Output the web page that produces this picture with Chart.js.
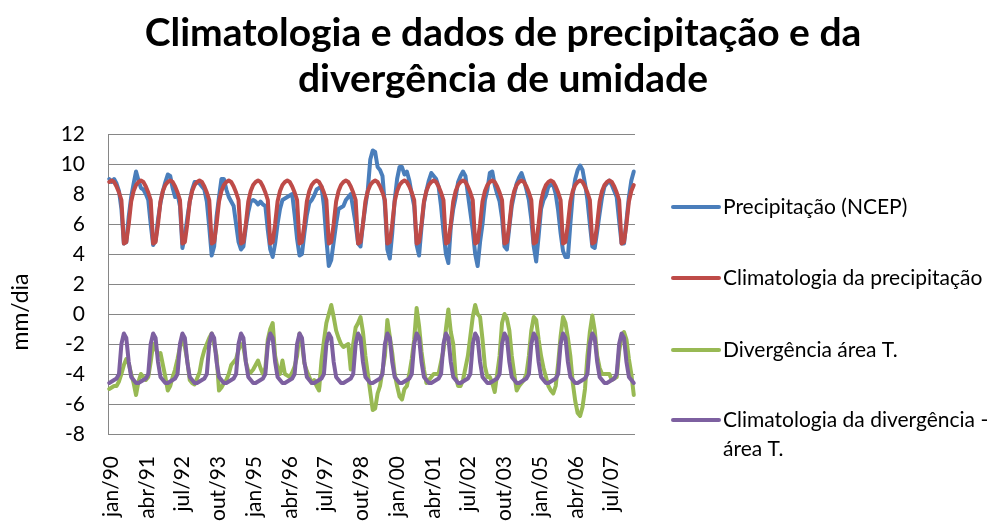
<!DOCTYPE html>
<html>
<head>
<meta charset="utf-8">
<script src="https://cdn.jsdelivr.net/npm/chart.js@4.4.1/dist/chart.umd.min.js"></script>
<style>
  html, body { margin: 0; padding: 0; background: #ffffff; }
  canvas { display: block; }
</style>
</head>
<body>
<canvas id="chart" width="999" height="522"></canvas>
<script>
// categories: monthly, jan/90 .. dez/07
const monthNames = ['jan', 'fev', 'mar', 'abr', 'mai', 'jun', 'jul', 'ago', 'set', 'out', 'nov', 'dez'];
const years = ['90', '91', '92', '93', '94', '95', '96', '97', '98', '99', '00', '01', '02', '03', '04', '05', '06', '07'];
const tickLabels = ['jan/90', 'abr/91', 'jul/92', 'out/93', 'jan/95', 'abr/96', 'jul/97', 'out/98',
                    'jan/00', 'abr/01', 'jul/02', 'out/03', 'jan/05', 'abr/06', 'jul/07'];

// monthly climatologies (jan..dez)
const precipClim = [8.8, 8.9, 8.8, 8.5, 8.1, 7.6, 4.7, 4.8, 6.0, 7.5, 8.2, 8.6];
const divClim = [-4.6, -4.5, -4.4, -4.3, -4.0, -2.0, -1.3, -1.6, -3.2, -4.2, -4.4, -4.6];

// precipitação (NCEP), one row per year
const precipNCEP = [
  [9.0, 8.8, 9.0, 8.7, 8.2, 7.0, 4.7, 4.8, 6.5, 7.8, 8.7, 9.5],
  [8.9, 8.4, 8.3, 8.0, 7.6, 6.0, 4.6, 4.9, 6.3, 7.4, 8.2, 8.8],
  [9.3, 9.2, 8.4, 7.8, 8.0, 7.2, 4.4, 5.2, 6.4, 7.5, 8.3, 8.8],
  [8.8, 8.7, 8.5, 8.3, 7.5, 5.8, 3.9, 4.5, 6.5, 7.8, 9.0, 9.0],
  [8.3, 7.8, 7.5, 7.2, 6.0, 4.8, 4.3, 4.5, 5.8, 6.8, 7.5, 7.6],
  [7.5, 7.3, 7.5, 7.3, 7.2, 5.6, 4.3, 3.8, 4.7, 6.0, 7.0, 7.6],
  [7.7, 7.8, 7.9, 8.0, 6.6, 5.0, 3.9, 4.0, 5.4, 6.6, 7.4, 7.6],
  [7.9, 8.3, 8.4, 8.5, 7.2, 5.0, 3.2, 3.6, 4.8, 6.0, 7.0, 7.1],
  [7.2, 7.6, 7.8, 8.0, 7.0, 6.0, 4.7, 4.5, 6.0, 7.2, 8.3, 10.3],
  [10.9, 10.8, 9.8, 9.6, 9.2, 7.2, 4.3, 3.7, 5.4, 7.6, 9.0, 9.8],
  [9.8, 9.3, 9.5, 8.9, 8.0, 7.2, 4.6, 3.9, 5.8, 7.4, 8.2, 8.9],
  [9.4, 9.2, 9.0, 8.5, 7.2, 5.5, 4.0, 3.4, 5.8, 7.0, 7.8, 8.8],
  [9.2, 9.5, 9.2, 8.0, 6.8, 5.6, 4.0, 3.2, 4.8, 6.0, 7.6, 8.3],
  [9.4, 9.5, 8.6, 8.0, 7.5, 6.4, 4.5, 4.3, 5.8, 7.2, 8.0, 8.7],
  [9.1, 9.4, 8.9, 8.3, 7.6, 6.3, 4.5, 3.5, 5.2, 7.0, 7.6, 7.9],
  [8.5, 8.6, 8.6, 8.0, 6.9, 5.4, 4.2, 3.8, 3.8, 6.0, 8.0, 9.0],
  [9.6, 9.9, 9.6, 8.7, 7.6, 6.0, 4.5, 4.4, 5.5, 6.7, 7.8, 8.5],
  [8.7, 8.9, 8.6, 8.2, 7.8, 6.2, 4.7, 4.7, 6.2, 7.8, 8.9, 9.5]
];

// divergência área T., one row per year
const divAreaT = [
  [-5.0, -4.9, -4.8, -4.8, -4.5, -4.0, -3.4, -3.0, -3.3, -4.0, -4.6, -5.4],
  [-4.5, -4.0, -4.2, -4.4, -4.2, -3.2, -2.0, -2.3, -2.7, -2.6, -3.4, -4.2],
  [-5.1, -4.8, -4.2, -3.7, -3.0, -2.2, -1.6, -2.2, -3.1, -4.4, -4.6, -4.7],
  [-4.3, -3.9, -3.0, -2.4, -2.0, -1.6, -1.3, -2.0, -2.8, -5.1, -4.9, -4.6],
  [-4.4, -4.0, -3.4, -3.2, -3.0, -2.4, -2.0, -2.2, -3.2, -3.8, -3.9, -3.7],
  [-3.4, -3.1, -3.6, -4.0, -3.6, -1.7, -1.0, -0.6, -2.8, -3.6, -4.0, -3.1],
  [-4.0, -4.1, -4.2, -3.9, -3.5, -2.8, -1.3, -2.0, -3.3, -3.8, -4.2, -4.6],
  [-4.4, -4.8, -5.1, -3.1, -1.8, -0.6, 0.0, 0.6, -0.2, -1.1, -1.6, -2.0],
  [-2.2, -2.1, -2.0, -3.7, -2.0, -0.9, -0.6, -0.2, -1.2, -2.8, -4.0, -5.2],
  [-6.4, -6.3, -5.3, -4.8, -3.8, -2.8, -0.4, -1.5, -2.6, -4.0, -4.8, -5.5],
  [-5.7, -5.0, -4.8, -4.0, -3.0, -1.7, 0.4, -0.8, -2.5, -3.7, -4.6, -4.4],
  [-4.2, -4.0, -4.0, -4.0, -3.2, -2.4, -1.0, 0.3, -1.2, -2.0, -4.2, -4.8],
  [-4.8, -4.4, -3.6, -2.8, -1.5, -0.2, 0.6, 0.0, -0.2, -1.7, -3.5, -4.2],
  [-4.2, -4.6, -5.2, -4.0, -2.8, -0.6, 0.0, -0.3, -1.1, -2.8, -4.0, -5.1],
  [-4.8, -4.6, -4.4, -4.0, -2.8, -1.1, -0.2, -0.4, -1.7, -2.8, -3.6, -4.2],
  [-4.8, -5.1, -5.3, -4.8, -3.3, -1.5, -0.2, -0.6, -1.6, -2.8, -4.6, -5.8],
  [-6.6, -6.8, -6.2, -5.0, -2.8, -1.2, -0.1, -1.1, -2.8, -3.6, -4.0, -4.0],
  [-4.0, -4.0, -4.4, -4.3, -4.2, -2.5, -1.5, -1.2, -1.7, -3.0, -4.0, -5.4]
];

const seriesNames = ['Precipitação (NCEP)', 'Climatologia da precipitação',
                     'Divergência área T.', 'Climatologia da divergência - área T.'];
const legendRows = [['Precipitação (NCEP)'], ['Climatologia da precipitação'],
                    ['Divergência área T.'], ['Climatologia da divergência -', 'área T.']];
const seriesColors = ['#4a7ebb', '#be4b48', '#98b954', '#7d60a0'];
const titleLines = ['Climatologia e dados de precipitação e da', 'divergência de umidade'];
const yTitle = 'mm/dia';

const labels = [];
years.forEach(y => monthNames.forEach(m => labels.push(m + '/' + y)));
const precipClimSeries = years.flatMap(() => precipClim);
const divClimSeries = years.flatMap(() => divClim);

Chart.defaults.font.family = 'Lato, "Open Sans", sans-serif';
Chart.defaults.color = '#000';

// title, y-axis caption and the side legend
const decorations = {
  id: 'decorations',
  afterDraw(chart) {
    const ctx = chart.ctx;
    ctx.save();
    ctx.fillStyle = '#000';
    ctx.textAlign = 'center';
    ctx.textBaseline = 'alphabetic';
    ctx.font = 'bold 39px Lato, sans-serif';
    ctx.fillText(titleLines[0], 503, 46);
    ctx.fillText(titleLines[1], 503, 92);

    ctx.save();
    ctx.translate(28, 312);
    ctx.rotate(-Math.PI / 2);
    ctx.font = '23px Lato, sans-serif';
    ctx.fillText(yTitle, 0, 0);
    ctx.restore();

    const rowY = [207, 278, 350, 420];
    ctx.textAlign = 'left';
    ctx.textBaseline = 'middle';
    ctx.font = '21px Lato, sans-serif';
    legendRows.forEach((rows, k) => {
      const y = rowY[k];
      ctx.strokeStyle = seriesColors[k];
      ctx.lineWidth = 4;
      ctx.lineCap = 'round';
      ctx.beginPath();
      ctx.moveTo(673, y);
      ctx.lineTo(719, y);
      ctx.stroke();
      rows.forEach((t, r) => ctx.fillText(t, 723, y + r * 29));
    });
    ctx.restore();
  }
};

const drawOrder = [3, 2, 1, 0];
const datasets = [precipNCEP.flat(), precipClimSeries, divAreaT.flat(), divClimSeries].map((d, k) => ({
  label: seriesNames[k],
  data: d,
  borderColor: seriesColors[k],
  backgroundColor: seriesColors[k],
  borderWidth: 4,
  borderJoinStyle: 'round',
  borderCapStyle: 'round',
  pointRadius: 0,
  tension: 0,
  order: drawOrder[k]
}));

new Chart(document.getElementById('chart'), {
  type: 'line',
  data: { labels: labels, datasets: datasets },
  options: {
    responsive: false,
    animation: false,
    layout: { padding: { top: 134, right: 364, left: 0, bottom: 0 } },
    plugins: { legend: { display: false }, title: { display: false }, tooltip: { enabled: false } },
    scales: {
      x: { type: 'category', offset: true, display: false },
      // label axis: one slot per tick label (every 15 months), as spaced in the original
      xl: {
        type: 'linear',
        axis: 'x',
        position: 'bottom',
        min: -0.084,
        max: 14.653,
        grid: { display: false, drawTicks: false },
        border: { display: false },
        afterBuildTicks: axis => { axis.ticks = tickLabels.map((t, k) => ({ value: k })); },
        ticks: {
          autoSkip: false,
          minRotation: 90,
          maxRotation: 90,
          padding: 22,
          font: { size: 21 },
          callback: value => tickLabels[value]
        },
        afterFit: axis => { axis.height = 88; }
      },
      y: {
        min: -8,
        max: 12,
        ticks: { stepSize: 2, padding: 23, font: { size: 21 } },
        grid: { color: '#868686', drawTicks: false },
        border: { display: true, color: '#868686', width: 1 },
        afterFit: axis => { axis.width = 108; }
      }
    }
  },
  plugins: [decorations]
});
</script>
</body>
</html>
